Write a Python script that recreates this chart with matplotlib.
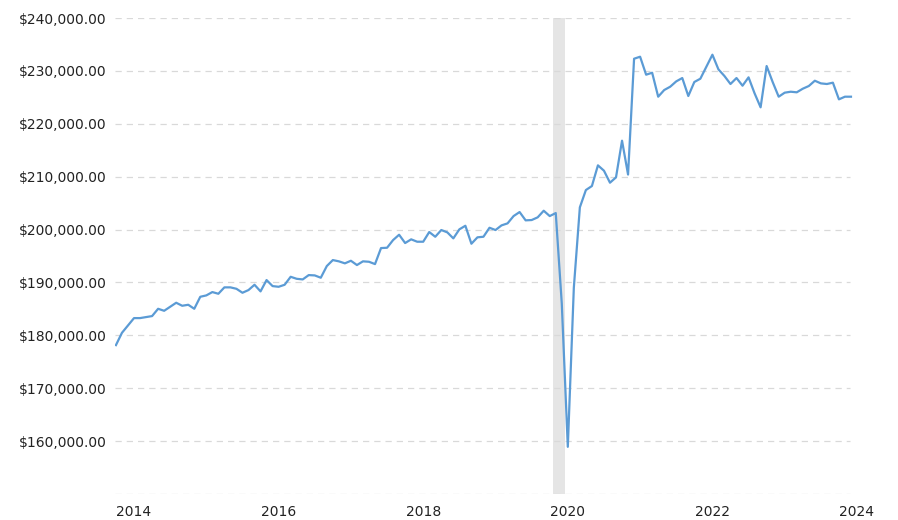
import numpy as np
import matplotlib
matplotlib.use("Agg")
import matplotlib.pyplot as plt

# monthly values, Oct 2013 .. Dec 2023
start_year = 2013 + 9 / 12
values = [
    178150, 180480, 181870, 183260, 183260, 183450, 183640, 185020, 184640, 185400,
    186160, 185590, 185780, 185020, 187290, 187550, 188180, 187860, 189070, 189070,
    188800, 188050, 188560, 189560, 188310, 190450, 189310, 189180, 189560, 191070,
    190690, 190570, 191390, 191330, 190890, 193100, 194230, 193990, 193610, 194100,
    193290, 193990, 193910, 193470, 196500, 196560, 198010, 199020, 197450, 198150,
    197700, 197700, 199530, 198640, 199910, 199470, 198330, 200040, 200720, 197320,
    198530, 198640, 200340, 199910, 200790, 201170, 202550, 203310, 201740, 201800,
    202310, 203560, 202550, 203120, 186000, 158920, 189000, 204200, 207470, 208230,
    212140, 211130, 208860, 209870, 216800, 210400, 232300, 232680, 229280, 229650,
    225120, 226380, 227010, 228020, 228650, 225250, 227900, 228520, 230790, 233060,
    230290, 229030, 227520, 228650, 227200, 228780, 225760, 223110, 230920, 227900,
    225120, 225880, 226060, 225950, 226630, 227140, 228140, 227640, 227520, 227770,
    224620, 225120, 225120,
]
x = start_year + np.arange(len(values)) / 12

recession = (2019.80, 2019.96)
yticks = list(range(160000, 240001, 10000))
xticks = [2014, 2016, 2018, 2020, 2022, 2024]

fig = plt.figure(figsize=(8.98, 5.2), dpi=100)
ax = fig.add_axes([115 / 898, 26 / 520, 742 / 898, 476 / 520])

x0, x1 = 2013.737, 2024.0
grid_end = 2023.903
ax.set_xlim(x0, x1)
ax.set_ylim(150000, 240000)

ax.hlines([150000] + yticks, x0, grid_end, colors="#d9d9d9", linestyles=(0, (5, 4)),
          linewidth=0.9, zorder=1)
ax.axvspan(*recession, color="#e5e5e5", lw=0, zorder=0)
ax.plot(x, values, color="#5b9bd5", lw=1.6, zorder=3)

ax.set_yticks(yticks)
ax.set_yticklabels([f"${v:,.2f}" for v in yticks])
ax.set_xticks(xticks)
ax.set_xticklabels([str(t) for t in xticks])
ax.tick_params(length=0, labelsize=10, colors="#222222")
ax.tick_params(axis="y", pad=6)
ax.tick_params(axis="x", pad=8)
for s in ax.spines.values():
    s.set_visible(False)

fig.savefig("out.png", dpi=100)
